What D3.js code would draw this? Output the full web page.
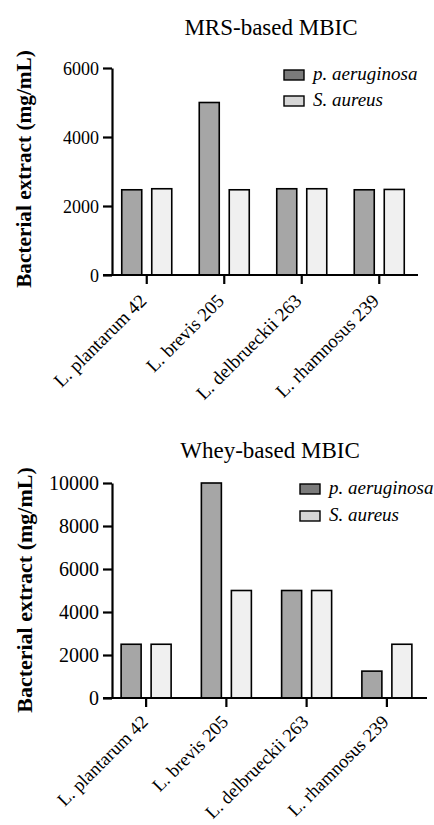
<!DOCTYPE html>
<meta charset="utf-8">
<script src="https://d3js.org/d3.v7.min.js"></script>
<style>
  body { margin: 0; background: #fff; }
  svg text { font-family: 'Liberation Serif', 'Times New Roman', serif; fill: #000; }
</style>
<body>
<script>
// Data
const strains = ["L. plantarum 42", "L. brevis 205", "L. delbrueckii 263", "L. rhamnosus 239"];
const seriesNames = ["p. aeruginosa", "S. aureus"];

const mrsPa = [2470, 5000, 2500, 2470];
const mrsSa = [2500, 2470, 2500, 2480];
const mrsTicks = [0, 2000, 4000, 6000];

const wheyPa = [2500, 10000, 5000, 1250];
const wheySa = [2500, 5000, 5000, 2500];
const wheyTicks = [0, 2000, 4000, 6000, 8000, 10000];

// bar fills, legend swatches are a bit darker in the original
const barFill = ["#a6a6a6", "#f0f0f0"];
const swatchFill = ["#7b7b7b", "#d6d6d6"];

const serif = "'Liberation Serif', 'Times New Roman', serif";

const svg = d3.select("body").append("svg")
    .attr("width", 434)
    .attr("height", 825);

function drawChart(opt) {
  const g = svg.append("g").attr("font-family", serif);

  const y = d3.scaleLinear()
      .domain([0, opt.ticks[opt.ticks.length - 1]])
      .range([opt.y0, opt.y1]);

  const x = d3.scaleBand()
      .domain(strains)
      .range(opt.xRange);

  const xs = d3.scaleBand()
      .domain(seriesNames)
      .range([0, x.bandwidth()])
      .paddingInner(1 / 3)
      .paddingOuter(opt.outer);

  const rows = strains.map((s, i) => ({strain: s, values: [opt.pa[i], opt.sa[i]]}));

  // bars
  g.selectAll(".grp")
    .data(rows)
    .join("g")
      .attr("transform", d => `translate(${x(d.strain)},0)`)
    .selectAll("rect")
    .data(d => d.values.map((v, k) => ({series: seriesNames[k], k: k, v: v})))
    .join("rect")
      .attr("x", d => xs(d.series))
      .attr("y", d => y(d.v))
      .attr("width", xs.bandwidth())
      .attr("height", d => y(0) - y(d.v))
      .attr("fill", d => barFill[d.k])
      .attr("stroke", "#000")
      .attr("stroke-width", 1.6);

  // y axis
  const yAxis = g.append("g")
      .attr("transform", `translate(${opt.yAxisX},0)`)
      .call(d3.axisLeft(y).tickValues(opt.ticks).tickFormat(d3.format("d"))
        .tickSize(9).tickSizeOuter(0).tickPadding(4));
  yAxis.attr("font-family", serif).attr("font-size", opt.tickFont);
  yAxis.selectAll("path, line").attr("stroke", "#000").attr("stroke-width", 2.2);
  yAxis.selectAll("text").attr("dy", "0.34em");

  // x axis
  const xAxis = g.append("g")
      .attr("transform", `translate(0,${opt.y0})`)
      .call(d3.axisBottom(x).tickSize(9).tickSizeOuter(0).tickFormat(""));
  xAxis.selectAll("path, line").attr("stroke", "#000").attr("stroke-width", 2.2);
  xAxis.select(".domain").attr("d", `M${opt.xLineStart},0H${opt.xRange[1]}`);

  // rotated category labels
  g.selectAll(".xlab")
    .data(strains)
    .join("text")
      .attr("transform", d => `translate(${x(d) + x.bandwidth() / 2 + opt.labDx},${opt.y0 + opt.labDy}) rotate(-45)`)
      .attr("text-anchor", "end")
      .attr("font-size", opt.labFont)
      .text(d => d);

  // title
  g.append("text")
      .attr("x", opt.titleX)
      .attr("y", opt.titleY)
      .attr("text-anchor", "middle")
      .attr("font-size", opt.titleFont)
      .text(opt.title);

  // y label
  g.append("text")
      .attr("transform", `translate(${opt.yLabX},${opt.yLabY}) rotate(-90)`)
      .attr("text-anchor", "middle")
      .attr("font-size", opt.yLabFont)
      .attr("font-weight", "bold")
      .text("Bacterial extract (mg/mL)");

  // legend
  const leg = g.selectAll(".leg")
    .data(seriesNames)
    .join("g")
      .attr("transform", (d, i) => `translate(${opt.legX},${opt.legY + i * opt.legStep})`);
  leg.append("rect")
      .attr("width", 20)
      .attr("height", 10)
      .attr("fill", (d, i) => swatchFill[i])
      .attr("stroke", "#000")
      .attr("stroke-width", 1.4);
  leg.append("text")
      .attr("x", 29)
      .attr("y", 10)
      .attr("font-size", 19)
      .attr("font-style", "italic")
      .text(d => d);
}

drawChart({
  title: "MRS-based MBIC", titleX: 271, titleY: 35, titleFont: 23,
  pa: mrsPa, sa: mrsSa, ticks: mrsTicks,
  y0: 275, y1: 68, yAxisX: 112, tickFont: 18,
  xRange: [108, 418], xLineStart: 103, outer: 0.458,
  labDx: 1, labDy: 27, labFont: 19,
  yLabX: 31, yLabY: 169, yLabFont: 21.3,
  legX: 284, legY: 70, legStep: 26
});

drawChart({
  title: "Whey-based MBIC", titleX: 270, titleY: 458, titleFont: 23,
  pa: wheyPa, sa: wheySa, ticks: wheyTicks,
  y0: 698, y1: 483, yAxisX: 112, tickFont: 20,
  xRange: [106, 427], xLineStart: 103, outer: 0.504,
  labDx: 3, labDy: 25, labFont: 18.6,
  yLabX: 32, yLabY: 590, yLabFont: 22,
  legX: 300, legY: 484, legStep: 27
});
</script>
</body>
